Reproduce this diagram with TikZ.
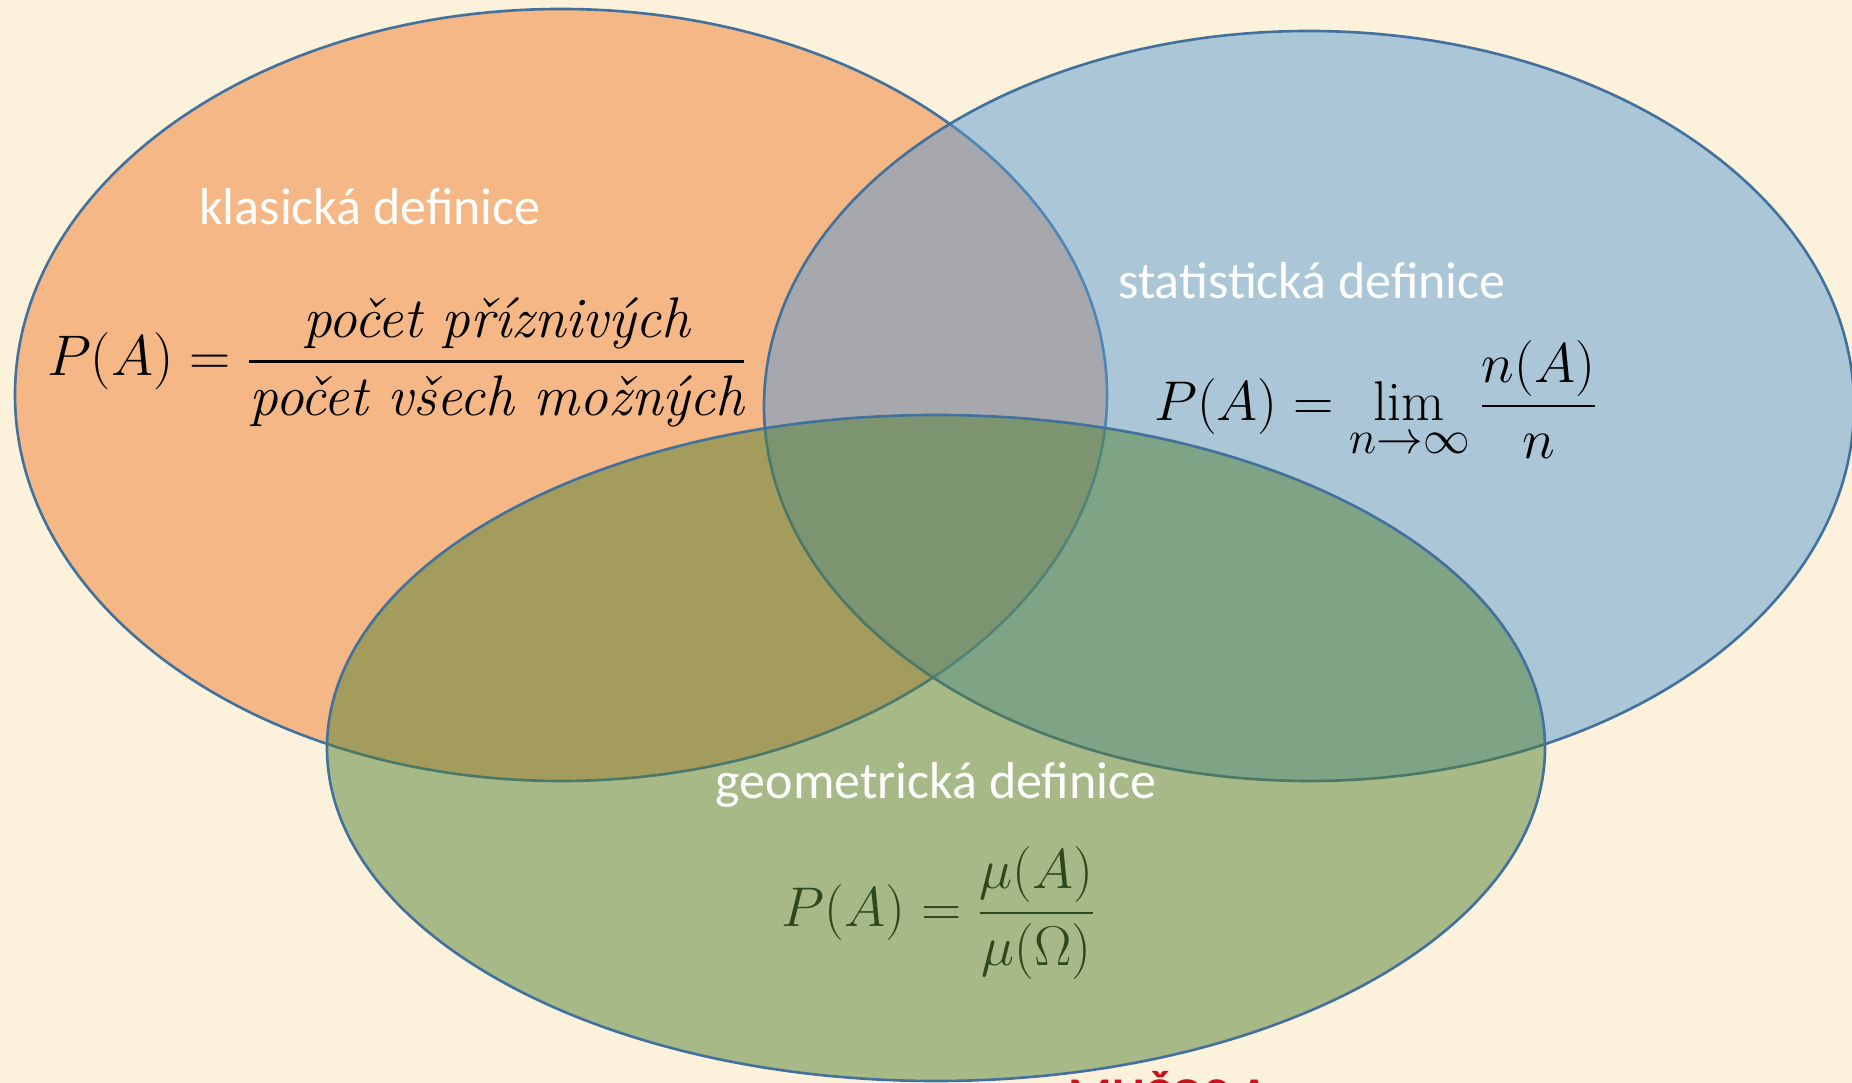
\documentclass[tikz,border=0pt]{standalone}
\usepackage{amsmath}
\usepackage{fontspec}
\newfontfamily\calibri{Carlito}
\definecolor{bgc}{RGB}{252,242,219}
\definecolor{orangeF}{RGB}{237,125,49}
\definecolor{blueF}{RGB}{91,155,213}
\definecolor{greenF}{RGB}{84,130,53}
\definecolor{edgeC}{RGB}{65,113,156}
\definecolor{mathG}{RGB}{45,72,28}
\definecolor{redT}{RGB}{204,16,32}
\tikzset{
  venn/.style={draw=edgeC, line width=1.05pt, fill opacity=0.5},
  lbl/.style={text=white, font=\calibri\fontsize{20.8}{25}\selectfont, inner sep=0pt},
  frm/.style={inner sep=0pt, font=\fontsize{24.88}{30}\selectfont},
}
\begin{document}
\begin{tikzpicture}[x=0.4pt,y=-0.4pt]
\useasboundingbox (0,0) rectangle (1852,1083);
\begin{scope}
\clip (0,0) rectangle (1852,1083);
\fill[bgc] (0,0) rectangle (1852,1083);
\path[venn, fill=orangeF] (561,395) ellipse [x radius=546, y radius=386];
\path[venn, fill=blueF] (1309,406) ellipse [x radius=545, y radius=375];
\path[venn, fill=greenF] (936,748) ellipse [x radius=609, y radius=333];
\node[lbl] (kl) at (370,207) {klasická definice};
\node[lbl] (st) at (1312,281) {statistická definice};
\node[lbl] (ge) at (936,785) {geometrická definice};
\node[frm] (fk) at (397,362) {\scalebox{0.92}{$P(A)=\dfrac{\textit{počet příznivých}}{\textit{počet všech možných}}$}};
\node[frm] (fs) at (1376,400) {\scalebox{0.9}{$P(A)=\lim\limits_{n\to\infty}\dfrac{n(A)}{n}$}};
\node[frm, text=mathG] (fg) at (939,913) {\scalebox{0.9}{$P(A)=\dfrac{\mu(A)}{\mu(\Omega)}$}};
\node[anchor=base west, inner sep=0pt, text=redT, font=\calibri\bfseries\fontsize{20}{24}\selectfont] (rt) at (1068,1112) {MUČOS A};
\end{scope}
\end{tikzpicture}
\end{document}
